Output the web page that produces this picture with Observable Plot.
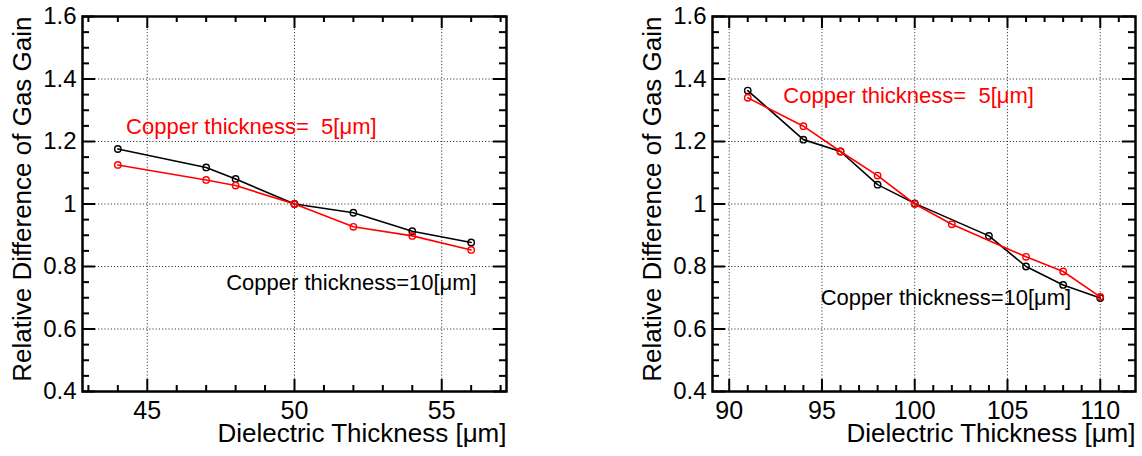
<!DOCTYPE html>
<html>
<head>
<meta charset="utf-8">
<script src="https://cdn.jsdelivr.net/npm/d3@7"></script>
<script src="https://cdn.jsdelivr.net/npm/@observablehq/plot@0.6"></script>
<style>
  html, body { margin: 0; padding: 0; background: #fff; }
  #wrap { display: flex; width: 1142px; height: 456px; }
  svg { font-family: "Liberation Sans", Arial, Helvetica, sans-serif; }
</style>
</head>
<body>
<div id="wrap"></div>
<script>
// ---- Data ----
// Left panel: dielectric thickness around 50 µm
const leftThickness = [44, 47, 48, 50, 52, 54, 56];
const leftGainCu10 = [1.176, 1.117, 1.080, 1.000, 0.972, 0.913, 0.877];
const leftGainCu5  = [1.125, 1.077, 1.059, 1.000, 0.927, 0.898, 0.853];

// Right panel: dielectric thickness around 100 µm
const rightThicknessCu10 = [91, 94, 96, 98, 100, 104, 106, 108, 110];
const rightGainCu10      = [1.363, 1.206, 1.168, 1.062, 1.002, 0.898, 0.800, 0.741, 0.699];
const rightThicknessCu5  = [91, 94, 96, 98, 100, 102, 106, 108, 110];
const rightGainCu5       = [1.340, 1.249, 1.168, 1.091, 1.000, 0.935, 0.831, 0.784, 0.703];

// Axes
const yTicks = [0.4, 0.6, 0.8, 1.0, 1.2, 1.4, 1.6];
const yTickLabels = ["0.4", "0.6", "0.8", "1", "1.2", "1.4", "1.6"];
const leftXTicks = [45, 50, 55];
const leftXTickLabels = ["45", "50", "55"];
const rightXTicks = [90, 95, 100, 105, 110];
const rightXTickLabels = ["90", "95", "100", "105", "110"];
const leftXDomain = [42.8, 57.2];
const rightXDomain = [89.1, 111.9];
const yDomain = [0.4, 1.6];

const xTitle = "Dielectric Thickness [\u03bcm]";
const yTitle = "Relative Difference of Gas Gain";
const labelCu5 = "Copper thickness=\u00a0\u00a05[\u03bcm]";
const labelCu10 = "Copper thickness=10[\u03bcm]";

// annotation anchors (data units)
const leftLabels = [
  {x: 44.28, y: 1.224, text: labelCu5, color: "red"},
  {x: 47.68, y: 0.725, text: labelCu10, color: "black"}
];
const rightLabels = [
  {x: 92.92, y: 1.324, text: labelCu5, color: "red"},
  {x: 94.93, y: 0.678, text: labelCu10, color: "black"}
];

function zip(xs, ys) { return xs.map((x, i) => ({x, y: ys[i]})); }

function panel({width, marginLeft, marginRight, xDomain, xTicks, xTickLabels, series, labels}) {
  const marginTop = 16, marginBottom = 65, height = 456;
  const pw = width - marginLeft - marginRight;
  const ph = height - marginTop - marginBottom;
  const xMinor = d3.range(Math.ceil(xDomain[0]), Math.floor(xDomain[1]) + 1).filter(v => !xTicks.includes(v));
  const yMinor = d3.range(0, 25).map(i => +(0.4 + i * 0.05).toFixed(2)).filter(v => v <= 1.6 && !yTicks.some(t => Math.abs(t - v) < 1e-6));
  const tickStyle = {stroke: "black", strokeWidth: 2};
  const marks = [
    // grid
    Plot.ruleX(xTicks, {x: d => d, stroke: "#000", strokeOpacity: 0.75, strokeWidth: 1, strokeDasharray: "1.2,2"}),
    Plot.ruleY(yTicks.slice(1, -1), {y: d => d, stroke: "#000", strokeOpacity: 0.75, strokeWidth: 1, strokeDasharray: "1.2,2"}),
  ];
  for (const s of series) {
    const data = zip(s.x, s.y);
    marks.push(Plot.line(data, {x: "x", y: "y", stroke: s.color, strokeWidth: 1.6}));
    marks.push(Plot.dot(data, {x: "x", y: "y", r: 3.2, stroke: s.color, fill: "none", strokeWidth: 1.4}));
  }
  marks.push(
    // major/minor ticks on all four sides (inward)
    Plot.tickY(yTicks, {y: d => d, insetRight: pw - 13, ...tickStyle}),
    Plot.tickY(yTicks, {y: d => d, insetLeft: pw - 13, ...tickStyle}),
    Plot.tickY(yMinor, {y: d => d, insetRight: pw - 7, ...tickStyle}),
    Plot.tickY(yMinor, {y: d => d, insetLeft: pw - 7, ...tickStyle}),
    Plot.tickX(xTicks, {x: d => d, insetTop: ph - 12, ...tickStyle}),
    Plot.tickX(xTicks, {x: d => d, insetBottom: ph - 12, ...tickStyle}),
    Plot.tickX(xMinor, {x: d => d, insetTop: ph - 6, ...tickStyle}),
    Plot.tickX(xMinor, {x: d => d, insetBottom: ph - 6, ...tickStyle}),
    Plot.frame({stroke: "black", strokeWidth: 2.5}),
    // tick labels
    Plot.text(yTicks, {y: d => d, text: (d, i) => yTickLabels[i], frameAnchor: "left", textAnchor: "end", lineAnchor: "middle", dx: -6, fontSize: 24, fill: "black"}),
    Plot.text(xTicks, {x: d => d, text: (d, i) => xTickLabels[i], frameAnchor: "bottom", textAnchor: "middle", lineAnchor: "bottom", dy: 27, fontSize: 25, fill: "black"}),
    // axis titles
    Plot.text([xTitle], {text: d => d, frameAnchor: "bottom-right", textAnchor: "end", lineAnchor: "bottom", dy: 50, fontSize: 26, fill: "black"}),
    Plot.text([yTitle], {text: d => d, frameAnchor: "top-left", textAnchor: "end", lineAnchor: "bottom", rotate: -90, dx: -52, fontSize: 26, fill: "black"}),
    // annotations
    Plot.text(labels, {x: "x", y: "y", text: "text", fill: "color", textAnchor: "start", lineAnchor: "bottom", fontSize: 22})
  );
  return Plot.plot({
    width, height, marginTop, marginRight, marginBottom, marginLeft,
    style: {fontFamily: "'Liberation Sans', Arial, Helvetica, sans-serif", background: "white", overflow: "visible"},
    x: {domain: xDomain, axis: null},
    y: {domain: yDomain, axis: null},
    marks
  });
}

const wrap = document.getElementById("wrap");
wrap.appendChild(panel({
  width: 571, marginLeft: 82, marginRight: 65,
  xDomain: leftXDomain, xTicks: leftXTicks, xTickLabels: leftXTickLabels,
  series: [
    {x: leftThickness, y: leftGainCu10, color: "black"},
    {x: leftThickness, y: leftGainCu5, color: "red"}
  ],
  labels: leftLabels
}));
wrap.appendChild(panel({
  width: 571, marginLeft: 141, marginRight: 7,
  xDomain: rightXDomain, xTicks: rightXTicks, xTickLabels: rightXTickLabels,
  series: [
    {x: rightThicknessCu10, y: rightGainCu10, color: "black"},
    {x: rightThicknessCu5, y: rightGainCu5, color: "red"}
  ],
  labels: rightLabels
}));
</script>
</body>
</html>
